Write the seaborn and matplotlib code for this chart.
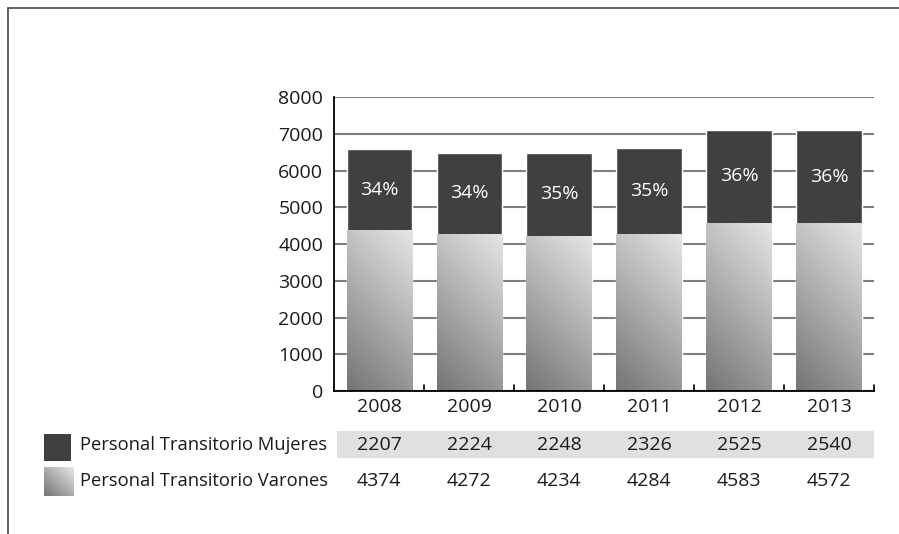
import numpy as np
import pandas as pd
import matplotlib
matplotlib.use("Agg")
import matplotlib.pyplot as plt
import seaborn as sns
from matplotlib.colors import LinearSegmentedColormap
from matplotlib.patches import Rectangle
from matplotlib.lines import Line2D

years = ["2008", "2009", "2010", "2011", "2012", "2013"]
mujeres = [2207, 2224, 2248, 2326, 2525, 2540]
varones = [4374, 4272, 4234, 4284, 4583, 4572]
pct_labels = ["34%", "34%", "35%", "35%", "36%", "36%"]
yticks = [0, 1000, 2000, 3000, 4000, 5000, 6000, 7000, 8000]
series_names = ["Personal Transitorio Mujeres", "Personal Transitorio Varones"]

df = pd.DataFrame({"year": years, "mujeres": mujeres, "varones": varones})
df["total"] = df["mujeres"] + df["varones"]

sns.set_theme(style="white")
plt.rcParams["font.family"] = ["Open Sans", "DejaVu Sans"]

W, H = 899, 534
fig = plt.figure(figsize=(W / 100, H / 100), dpi=100)
ax = fig.add_axes([334.3 / W, 1 - 391 / H, (874 - 334.3) / W, (391 - 97.3) / H])

dark = "#404040"
sns.barplot(data=df, x="year", y="total", color=dark, saturation=1, width=0.727, ax=ax)
n_top = len(ax.patches)
sns.barplot(data=df, x="year", y="varones", color="#999999", saturation=1, width=0.727, ax=ax)
bottom_patches = ax.patches[n_top:]

cmap = LinearSegmentedColormap.from_list("g", ["#747474", "#e6e6e6"])
uu, vv = np.meshgrid(np.linspace(0, 1, 64), np.linspace(0, 1, 256))
grad = 0.3 * uu + 0.7 * vv
for p in bottom_patches:
    x0, y0 = p.get_x(), p.get_y()
    w, h = p.get_width(), p.get_height()
    im = ax.imshow(grad, cmap=cmap, vmin=0, vmax=1, origin="lower",
                   extent=[x0, x0 + w, y0, y0 + h], aspect="auto", zorder=p.get_zorder())
    im.set_clip_path(p)
    p.set_facecolor("none")
    p.set_edgecolor("none")

FS = 14
ax.set_xlim(-0.5, len(years) - 0.5)
ax.set_ylim(0, 8000)
ax.set_yticks(yticks)
ax.set_yticklabels([str(t) for t in yticks], fontsize=FS, color="#1a1a1a")
ax.yaxis.grid(True, color="#7f7f7f", linewidth=1.5)
ax.set_axisbelow(True)
ax.tick_params(axis="y", length=0, pad=8)
ax.set_xticks(range(len(years)))
ax.set_xticklabels(years, fontsize=FS, color="#1a1a1a")
ax.tick_params(axis="x", length=0, pad=5)
for xb in np.arange(0.5, len(years), 1.0):
    ax.plot([xb, xb], [0, 160], color="black", linewidth=1.2, clip_on=False, zorder=1)
ax.set_xlabel("")
ax.set_ylabel("")
for s in ["top", "right"]:
    ax.spines[s].set_visible(False)
for s in ["left", "bottom"]:
    ax.spines[s].set_color("black")
    ax.spines[s].set_linewidth(1.3)

for i, (v, m, lab) in enumerate(zip(varones, mujeres, pct_labels)):
    ax.text(i, v + m / 2, lab, ha="center", va="center", color="white", fontsize=FS)

# data table below
def fy(py):
    return 1 - py / H

row_y = [445, 481]
fig.patches.append(Rectangle((337 / W, fy(458)), (874 - 337) / W, (458 - 431) / H,
                             transform=fig.transFigure, facecolor="#e0e0e0", edgecolor="none"))
fig.patches.append(Rectangle((44 / W, fy(461)), 27 / W, 27 / H, transform=fig.transFigure,
                             facecolor=dark, edgecolor="none"))
sw = fig.add_axes([44 / W, fy(496), 29 / W, 29 / H])
sw.imshow(0.5 * uu + 0.5 * vv, cmap=cmap, vmin=0, vmax=1, origin="lower", aspect="auto",
          extent=[0, 1, 0, 1])
sw.axis("off")

for name, yy in zip(series_names, row_y):
    fig.text(80 / W, fy(yy), name, ha="left", va="center", fontsize=13.2, color="#1a1a1a")

trans = matplotlib.transforms.blended_transform_factory(ax.transData, fig.transFigure)
for i in range(len(years)):
    fig.text(i, fy(row_y[0]), str(mujeres[i]), transform=trans, ha="center", va="center",
             fontsize=FS, color="#1a1a1a")
    fig.text(i, fy(row_y[1]), str(varones[i]), transform=trans, ha="center", va="center",
             fontsize=FS, color="#1a1a1a")

# outer frame
fig.add_artist(Line2D([7.5 / W, 7.5 / W], [0, fy(8)], transform=fig.transFigure,
                      color="#555555", linewidth=1.3))
fig.add_artist(Line2D([7.5 / W, 1], [fy(8), fy(8)], transform=fig.transFigure,
                      color="#555555", linewidth=1.3))

fig.savefig("out.png", dpi=100)
